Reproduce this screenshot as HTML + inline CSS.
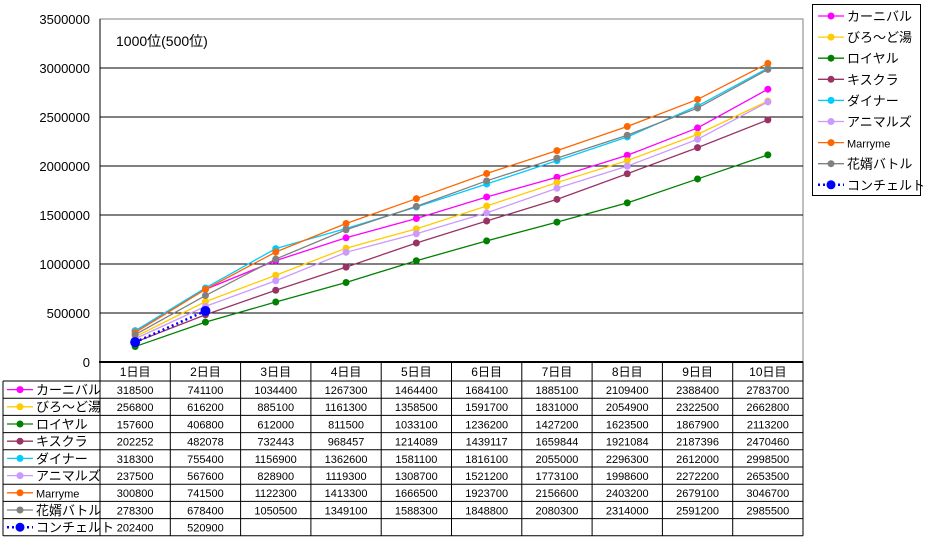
<!DOCTYPE html>
<html><head><meta charset="utf-8"><style>
body{margin:0;background:#fff;font-family:"Liberation Sans","Noto Sans CJK JP",sans-serif;}
svg text{font-family:"Liberation Sans","Noto Sans CJK JP",sans-serif;}
</style></head><body>
<svg id="c" width="925" height="539" xmlns="http://www.w3.org/2000/svg"></svg>
<script>
const categories=["1日目","2日目","3日目","4日目","5日目","6日目","7日目","8日目","9日目","10日目"];
const seriesNames=["カーニバル","びろ～ど湯","ロイヤル","キスクラ","ダイナー","アニマルズ","Marryme","花婿バトル","コンチェルト"];
const seriesColors=["#ff00ff","#ffcc00","#008000","#993366","#00ccff","#cc99ff","#ff6600","#808080","#0000ff"];
const sCarnival=[318500,741100,1034400,1267300,1464400,1684100,1885100,2109400,2388400,2783700];
const sVelvet=[256800,616200,885100,1161300,1358500,1591700,1831000,2054900,2322500,2662800];
const sRoyal=[157600,406800,612000,811500,1033100,1236200,1427200,1623500,1867900,2113200];
const sKiss=[202252,482078,732443,968457,1214089,1439117,1659844,1921084,2187396,2470460];
const sDiner=[318300,755400,1156900,1362600,1581100,1816100,2055000,2296300,2612000,2998500];
const sAnimals=[237500,567600,828900,1119300,1308700,1521200,1773100,1998600,2272200,2653500];
const sMarry=[300800,741500,1122300,1413300,1666500,1923700,2156600,2403200,2679100,3046700];
const sGroom=[278300,678400,1050500,1349100,1588300,1848800,2080300,2314000,2591200,2985500];
const sConcerto=[202400,520900];
const yTicks=[0,500000,1000000,1500000,2000000,2500000,3000000,3500000];
const allSeries=[sCarnival,sVelvet,sRoyal,sKiss,sDiner,sAnimals,sMarry,sGroom,sConcerto];
const NS="http://www.w3.org/2000/svg";
const svg=document.getElementById('c');
const L=100,R=803,T=19,B=362;
const colW=(R-L)/categories.length;
const x=i=>L+colW*(i+0.5);
const y=v=>B-(v/3500000)*(B-T);
function mk(tag,attrs,parent){const e=document.createElementNS(NS,tag);for(const k in attrs)e.setAttribute(k,attrs[k]);(parent||svg).appendChild(e);return e;}
// plot border
const frame=mk('rect',{x:L,y:T,width:R-L,height:B-T,fill:'none',stroke:'#808080'});


yTicks.forEach(t=>{
  if(t>0&&t<3500000){const g=mk('line',{x1:L,x2:R,y1:y(t),y2:y(t),stroke:'#000'});
  
  }
  const tx=mk('text',{x:90,y:y(t)+5,'text-anchor':'end','font-size':13});
  tx.textContent=t;
  
  
});
mk('line',{x1:L,x2:L,y1:T,y2:B,stroke:'#000'});
const title=mk('text',{x:116,y:46,'font-size':14});
title.textContent='1000位(500位)';


// series
allSeries.forEach((s,si)=>{
  const g=mk('g',{});
  
  
  const pts=s.map((v,i)=>x(i)+','+y(v)).join(' ');
  const dotted=si===8;
  mk('polyline',{points:pts,fill:'none',stroke:seriesColors[si],'stroke-width':dotted?2.5:1.3,'stroke-dasharray':dotted?'2,3':'none'},g);
  s.forEach((v,i)=>{const c=mk('circle',{cx:x(i),cy:y(v),r:dotted?5:3.5,fill:seriesColors[si]},g);
    
    });
});
// table
const tTop=362,hH=19,rH=17.2,tL=3;
const tb=mk('g',{});


const tBot=tTop+hH+rH*9;
mk('rect',{x:L,y:tTop,width:R-L,height:hH,fill:'none',stroke:'#000'},tb);
mk('line',{x1:L-1,x2:R,y1:tTop,y2:tTop,stroke:'#000','stroke-width':2},tb);
for(let r=0;r<=9;r++)mk('line',{x1:tL,x2:R,y1:tTop+hH+r*rH,y2:tTop+hH+r*rH,stroke:'#000'},tb);
mk('line',{x1:tL,x2:tL,y1:tTop+hH,y2:tBot,stroke:'#000'},tb);
for(let i=0;i<=categories.length;i++)mk('line',{x1:L+i*colW,x2:L+i*colW,y1:tTop,y2:tBot,stroke:'#000'},tb);
categories.forEach((c,i)=>{const t=mk('text',{x:x(i),y:tTop+14,'text-anchor':'middle','font-size':12},tb);t.textContent=c;
  
  });
allSeries.forEach((s,si)=>{
  const ry=tTop+hH+si*rH;
  const dotted=si===8;
  mk('line',{x1:7,x2:33,y1:ry+rH/2,y2:ry+rH/2,stroke:seriesColors[si],'stroke-width':dotted?2.5:1.3,'stroke-dasharray':dotted?'2,3':'none'},tb);
  mk('circle',{cx:20,cy:ry+rH/2,r:dotted?4.5:3.5,fill:seriesColors[si]},tb);
  const n=mk('text',{x:36,y:ry+13.5,'font-size':si===6?11:13},tb);n.textContent=seriesNames[si];
  
  
  s.forEach((v,i)=>{const t=mk('text',{x:x(i),y:ry+13,'text-anchor':'middle','font-size':11},tb);t.textContent=v;
    
    });
});
// legend
const lg=mk('g',{});


mk('rect',{x:812.5,y:4.5,width:108,height:191,fill:'#fff',stroke:'#000'},lg);
seriesNames.forEach((n,si)=>{
  const ly=16+si*21.1;const dotted=si===8;
  const e=mk('g',{},lg);
  
  
  mk('line',{x1:818,x2:844,y1:ly,y2:ly,stroke:seriesColors[si],'stroke-width':dotted?2.5:1.3,'stroke-dasharray':dotted?'2,3':'none'},e);
  mk('circle',{cx:831,cy:ly,r:dotted?4.5:3.5,fill:seriesColors[si]},e);
  const t=mk('text',{x:847,y:ly+5,'font-size':si===6?11:13},e);t.textContent=n;
});
</script>
</body></html>
